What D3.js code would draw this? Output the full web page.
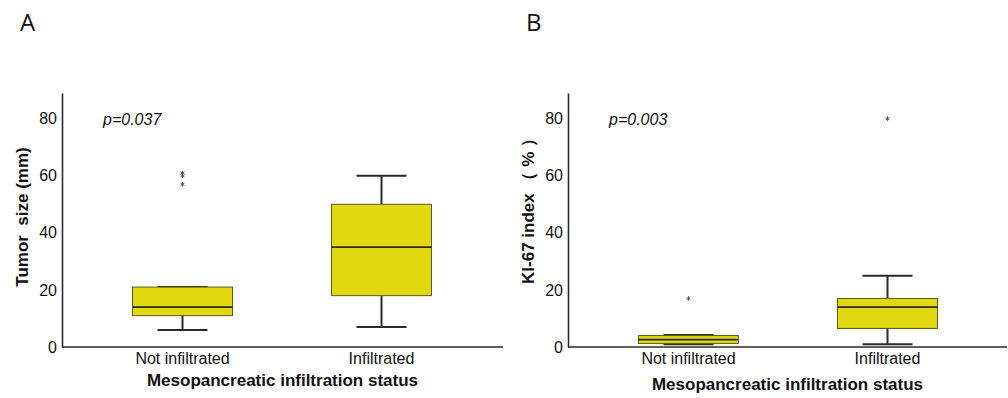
<!DOCTYPE html>
<html>
<head>
<meta charset="utf-8">
<script src="https://cdn.jsdelivr.net/npm/d3@7"></script>
<style>
  body { margin: 0; background: #fff; }
  svg text { font-family: "Liberation Sans", Arial, sans-serif; fill: #111; white-space: pre; }
</style>
</head>
<body>
<svg id="chart" width="1008" height="398"></svg>
<script>
const categories = ['Not infiltrated', 'Infiltrated'];
const yTicks = [0, 20, 40, 60, 80];

// [min, q1, median, q3, max] per category
const tumorStats = [[6, 11, 14, 21, 21], [7, 18, 35, 50, 60]];
const tumorOutliers = [[61, 60, 57], []];
const kiStats = [[1, 1.2, 2.6, 4, 4.2], [1, 6.5, 14, 17, 25]];
const kiOutliers = [[17], [80]];

const panels = [
  { letter: 'A', x0: 62, x1: 503, yLabel: 'Tumor  size (mm)', p: 'p=0.037',
    stats: tumorStats, outliers: tumorOutliers, titleY: 386, labelY: 217 },
  { letter: 'B', x0: 568, x1: 1007, yLabel: 'KI-67 index （ % ）', p: 'p=0.003',
    stats: kiStats, outliers: kiOutliers, titleY: 390, labelY: 207 },
];

const svg = d3.select('#chart');
const y = d3.scaleLinear().domain([0, 89]).range([347, 93]);
const fill = '#e2d810', edge = '#5b5a20', ink = '#2a2a2a';
const star = d3.symbol().type(d3.symbolAsterisk).size(14);

panels.forEach((pn) => {
  const g = svg.append('g');
  const x = d3.scaleBand().domain(categories)
    .range([pn.x0 + 21, pn.x0 + 419]).paddingInner(0).paddingOuter(0);
  const bw = 100, cap = 50;

  // panel letter
  svg.append('text').attr('x', pn.x0 - 42).attr('y', 31)
    .style('font-family', '"Open Sans", sans-serif').style('font-size', '24px')
    .text(pn.letter);

  // y axis
  const yAxis = d3.axisLeft(y).tickValues(yTicks).tickSize(0).tickPadding(5);
  g.append('g').attr('transform', `translate(${pn.x0},0)`).call(yAxis)
    .call(s => s.select('.domain').attr('stroke', ink).attr('stroke-width', 1.6))
    .selectAll('text').style('font-size', '16px');

  // x axis line
  g.append('line').attr('x1', pn.x0).attr('x2', pn.x1)
    .attr('y1', y(0)).attr('y2', y(0)).attr('stroke', ink).attr('stroke-width', 1.6);
  const xAxis = d3.axisBottom(x).tickSize(0).tickPadding(6);
  g.append('g').attr('transform', `translate(0,${y(0)})`).call(xAxis)
    .call(s => s.select('.domain').remove())
    .selectAll('text').style('font-size', '16px');

  // axis titles
  g.append('text').attr('x', (pn.x0 + pn.x1) / 2 - 0).attr('y', pn.titleY)
    .attr('text-anchor', 'middle').style('font-size', '17px').style('font-weight', 'bold')
    .text('Mesopancreatic infiltration status');
  g.append('text')
    .attr('transform', `translate(${pn.x0 - 34},${pn.labelY}) rotate(-90)`)
    .attr('text-anchor', 'middle').style('font-size', '17px').style('font-weight', 'bold')
    .text(pn.yLabel);

  // p value
  g.append('text').attr('x', pn.x0 + 41).attr('y', 125)
    .style('font-size', '16px').style('font-style', 'italic').text(pn.p);

  // boxes
  const box = g.selectAll('g.box').data(categories.map((c, i) => ({
    c, s: pn.stats[i], out: pn.outliers[i] })))
    .enter().append('g').attr('class', 'box')
    .attr('transform', d => `translate(${x(d.c) + x.bandwidth() / 2},0)`);

  box.append('line').attr('y1', d => y(d.s[0])).attr('y2', d => y(d.s[1]))
    .attr('stroke', ink).attr('stroke-width', 2);
  box.append('line').attr('y1', d => y(d.s[3])).attr('y2', d => y(d.s[4]))
    .attr('stroke', ink).attr('stroke-width', 2);
  box.selectAll('line.cap').data(d => [d.s[0], d.s[4]]).enter().append('line')
    .attr('class', 'cap').attr('x1', -cap / 2).attr('x2', cap / 2)
    .attr('y1', v => y(v)).attr('y2', v => y(v)).attr('stroke', ink).attr('stroke-width', 2);
  box.append('rect').attr('x', -bw / 2).attr('width', bw)
    .attr('y', d => y(d.s[3])).attr('height', d => y(d.s[1]) - y(d.s[3]))
    .attr('fill', fill).attr('stroke', edge).attr('stroke-width', 1);
  box.append('line').attr('x1', -bw / 2).attr('x2', bw / 2)
    .attr('y1', d => y(d.s[2])).attr('y2', d => y(d.s[2]))
    .attr('stroke', ink).attr('stroke-width', 1.8);

  // outliers drawn as small asterisks
  box.selectAll('path.out').data(d => d.out).enter().append('path').attr('class', 'out')
    .attr('transform', v => `translate(0,${y(v)})`).attr('d', star)
    .attr('stroke', '#444').attr('stroke-width', 0.9).attr('fill', 'none');
});
</script>
</body>
</html>
